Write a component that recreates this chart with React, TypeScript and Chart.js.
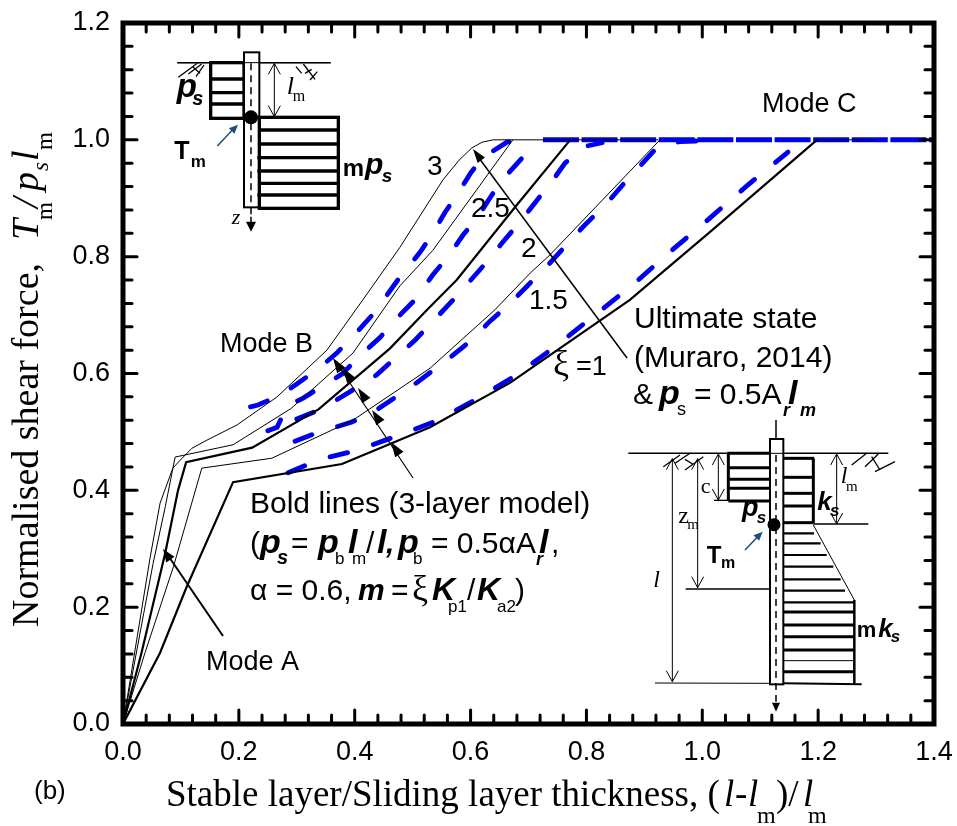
import React, { useEffect, useRef } from "react";
import { Chart, registerables } from "chart.js";

Chart.register(...registerables);

type P = [number, number];

// Solid black curves (three-layer ultimate state), one per xi
const solidXi1: P[] = [[0,0],[0.064,0.122],[0.11,0.235],[0.19,0.414],[0.378,0.445],[0.53,0.508],[0.668,0.584],[0.875,0.726],[1.013,0.842],[1.198,1.0]];
const solidXi15: P[] = [[0,0],[0.038,0.122],[0.087,0.269],[0.136,0.438],[0.257,0.455],[0.397,0.52],[0.53,0.609],[0.642,0.709],[0.703,0.772],[0.737,0.803],[0.927,1.0]];
const solidXi2: P[] = [[0,0],[0.032,0.122],[0.073,0.293],[0.095,0.4],[0.109,0.448],[0.223,0.473],[0.338,0.539],[0.461,0.643],[0.525,0.709],[0.576,0.76],[0.677,0.885],[0.772,1.0]];
const solidXi25: P[] = [[0,0],[0.052,0.275],[0.073,0.372],[0.09,0.457],[0.19,0.478],[0.29,0.54],[0.397,0.635],[0.461,0.726],[0.478,0.75],[0.535,0.811],[0.673,1.0]];
const solidXi3: P[] = [[0,0],[0.047,0.286],[0.064,0.378],[0.086,0.438],[0.102,0.455],[0.119,0.472],[0.145,0.486],[0.197,0.512],[0.266,0.56],[0.352,0.64],[0.414,0.726],[0.478,0.816],[0.552,0.931],[0.58,0.965],[0.602,0.986],[0.62,0.996],[0.639,1.0]];
// Thin black plateau pieces that show through the blue line
const solidFlatA: P[] = [[0.639,1.0],[0.924,1.0]];
const solidFlatB: P[] = [[1.198,1.0],[1.3,1.0]];

// Dashed blue curves (Muraro, 2014), one per xi
const dashXi1: P[] = [[0.285,0.43],[0.34,0.453],[0.406,0.469],[0.478,0.495],[0.542,0.519],[0.608,0.555],[0.677,0.596],[0.742,0.643],[0.811,0.697],[0.879,0.751],[0.944,0.808],[1.013,0.866],[1.079,0.923],[1.148,0.979]];
const dashXi15: P[] = [[0.297,0.484],[0.328,0.496],[0.366,0.508],[0.395,0.517],[0.432,0.534],[0.464,0.555],[0.5,0.579],[0.568,0.63],[0.6,0.656],[0.634,0.69],[0.665,0.717],[0.703,0.755],[0.734,0.786],[0.768,0.823],[0.797,0.854],[0.834,0.89],[0.861,0.921],[0.897,0.96],[0.923,0.988],[0.961,0.997],[0.99,0.998]];
const dashXi2: P[] = [[0.3,0.522],[0.335,0.536],[0.369,0.555],[0.397,0.572],[0.437,0.597],[0.466,0.623],[0.504,0.657],[0.57,0.726],[0.596,0.755],[0.628,0.791],[0.654,0.823],[0.685,0.859],[0.711,0.892],[0.74,0.928],[0.763,0.96],[0.794,0.988],[0.827,0.995]];
const dashXi25: P[] = [[0.25,0.502],[0.266,0.508],[0.283,0.544],[0.311,0.558],[0.347,0.58],[0.378,0.599],[0.414,0.635],[0.444,0.662],[0.478,0.7],[0.504,0.726],[0.535,0.769],[0.561,0.8],[0.587,0.837],[0.611,0.866],[0.637,0.906],[0.659,0.936],[0.69,0.97],[0.723,0.996]];
const dashXi3: P[] = [[0.22,0.543],[0.233,0.546],[0.271,0.563],[0.3,0.582],[0.337,0.608],[0.369,0.635],[0.404,0.671],[0.432,0.702],[0.478,0.765],[0.513,0.808],[0.533,0.837],[0.556,0.876],[0.576,0.905],[0.6,0.943],[0.621,0.97],[0.663,0.996],[0.69,1.0]];
// Mode C plateau where the dashed curves overlap
const dashPlateau: P[] = [[0.725,1.0],[1.4,1.0]];

const blackCurves = [
  { label: "xi = 1 (3-layer)", pts: solidXi1, bold: true },
  { label: "xi = 1.5 (3-layer)", pts: solidXi15, bold: false },
  { label: "xi = 2 (3-layer)", pts: solidXi2, bold: true },
  { label: "xi = 2.5 (3-layer)", pts: solidXi25, bold: false },
  { label: "xi = 3 (3-layer)", pts: solidXi3, bold: false },
  { label: "plateau overlap A", pts: solidFlatA, bold: false },
  { label: "plateau overlap B", pts: solidFlatB, bold: false },
];
const blueCurves = [
  { label: "xi = 1 (ultimate)", pts: dashXi1 },
  { label: "xi = 1.5 (ultimate)", pts: dashXi15 },
  { label: "xi = 2 (ultimate)", pts: dashXi2 },
  { label: "xi = 2.5 (ultimate)", pts: dashXi25 },
  { label: "xi = 3 (ultimate)", pts: dashXi3 },
];

const SANS = '"Liberation Sans"';
const SERIF = '"Liberation Serif"';
const BI = (s: number) => `italic bold ${s}px ${SANS}`;
const B = (s: number) => `bold ${s}px ${SANS}`;
const R = (s: number) => `${s}px ${SANS}`;
const SR = (s: number) => `${s}px ${SERIF}`;
const SI = (s: number) => `italic ${s}px ${SERIF}`;

type Ctx = CanvasRenderingContext2D;

function t(c: Ctx, s: string, x: number, y: number, font: string, color = "#000") {
  c.font = font;
  c.fillStyle = color;
  c.textAlign = "left";
  c.textBaseline = "alphabetic";
  c.fillText(s, x, y);
}

function line(c: Ctx, x1: number, y1: number, x2: number, y2: number, w = 1, color = "#000") {
  c.strokeStyle = color;
  c.lineWidth = w;
  c.beginPath();
  c.moveTo(x1, y1);
  c.lineTo(x2, y2);
  c.stroke();
}

function solidHead(c: Ctx, tipX: number, tipY: number, ang: number, len: number, wid: number, color = "#000") {
  c.fillStyle = color;
  c.beginPath();
  c.moveTo(tipX, tipY);
  c.lineTo(tipX - Math.cos(ang) * len - Math.sin(ang) * wid, tipY - Math.sin(ang) * len + Math.cos(ang) * wid);
  c.lineTo(tipX - Math.cos(ang) * len + Math.sin(ang) * wid, tipY - Math.sin(ang) * len - Math.cos(ang) * wid);
  c.closePath();
  c.fill();
}

function openHead(c: Ctx, tipX: number, tipY: number, dir: 1 | -1) {
  line(c, tipX - 6, tipY - dir * 11, tipX, tipY, 1);
  line(c, tipX + 6, tipY - dir * 11, tipX, tipY, 1);
}

function dimArrow(c: Ctx, x: number, y1: number, y2: number) {
  line(c, x, y1, x, y2, 1);
  openHead(c, x, y1, -1);
  openHead(c, x, y2, 1);
}

function topLeftInset(c: Ctx) {
  const X = (v: number) => 120 + v / 3;
  const Y = (v: number) => 20 + v / 3;
  const L = (a: number, b: number, d: number, e: number, w = 1) => line(c, X(a), Y(b), X(d), Y(e), w);
  L(172, 128, 632, 128, 1.5);
  c.lineJoin = "miter";
  c.lineWidth = 3.3;
  c.strokeStyle = "#000";
  c.strokeRect(X(272), Y(128), (372 - 272) / 3, (295 - 128) / 3);
  [177, 218, 252].forEach((v) => L(272, v, 372, v, 3.3));
  c.lineWidth = 2;
  c.fillStyle = "#fff";
  c.fillRect(X(372), Y(97), 46 / 3, 465 / 3);
  c.strokeRect(X(372), Y(97), 46 / 3, 465 / 3);
  L(172, 128, 632, 128, 1);
  c.setLineDash([7, 5]);
  L(393, 130, 393, 590, 1.5);
  c.setLineDash([]);
  L(393, 590, 393, 625, 1.5);
  solidHead(c, X(393), Y(635), Math.PI / 2, 10, 5);
  c.fillStyle = "#000";
  c.beginPath();
  c.arc(X(393), Y(292), 7, 0, Math.PI * 2);
  c.fill();
  c.lineWidth = 3.3;
  c.strokeRect(X(418), Y(292), (655 - 418) / 3, (565 - 292) / 3);
  [330, 372, 413, 453, 490, 525].forEach((v) => L(v > 400 && v < 530 && v !== 490 ? 412 : 418, v, 655, v, 3.3));
  dimArrow(c, X(463), Y(130), Y(290));
  line(c, X(292), Y(378), X(345), Y(322), 1.5, "#1f4e79");
  solidHead(c, X(354), Y(314), -Math.PI / 4, 9, 4, "#1f4e79");
  [[175, 172, 232, 130], [205, 162, 245, 132], [228, 170, 252, 135], [218, 140, 240, 160]].forEach((h) => L(h[0], h[1], h[2], h[3], 1.3));
  [[528, 140, 545, 160], [550, 132, 585, 178], [570, 180, 592, 155], [555, 160, 575, 148]].forEach((h) => L(h[0], h[1], h[2], h[3], 1.3));
  t(c, "p", X(170), Y(232), BI(33));
  t(c, "s", X(217), Y(256), BI(20));
  t(c, "T", X(163), Y(418), B(25));
  t(c, "m", X(212), Y(442), B(17));
  t(c, "m", X(668), Y(468), B(24));
  t(c, "p", X(735), Y(462), BI(30));
  t(c, "s", X(785), Y(486), BI(19));
  t(c, "l", X(500), Y(222), SI(26));
  t(c, "m", X(518), Y(242), SR(16));
  t(c, "z", X(335), Y(612), SI(22));
}

function bottomRightInset(c: Ctx) {
  const X = (v: number) => 610 + v / 3;
  const Y = (v: number) => 420 + v / 3;
  const L = (a: number, b: number, d: number, e: number, w = 1) => line(c, X(a), Y(b), X(d), Y(e), w);
  L(55, 100, 835, 100, 1.5);
  L(352, 100, 480, 100, 3);
  L(355, 100, 355, 243, 3);
  L(355, 243, 480, 243, 3);
  L(312, 241, 355, 241, 1.3);
  [143, 178, 205].forEach((v) => L(355, v, 480, v, 3));
  L(520, 115, 612, 115, 3);
  L(610, 115, 610, 310, 3);
  [172, 220, 258, 308].forEach((v) => L(517, v, 610, v, 3));
  L(610, 312, 775, 312, 1.3);
  L(610, 315, 733, 540, 1);
  const taper: P[] = [[340, 612], [370, 632], [405, 650], [440, 670], [478, 692], [512, 705], [547, 733]];
  taper.forEach((p) => L(514, p[0], p[1], p[0], 2.2));
  L(733, 540, 733, 792, 2.5);
  [576, 615, 650, 690, 755].forEach((v) => L(516, v, 733, v, 3));
  L(520, 722, 733, 722, 1);
  L(520, 790, 755, 793, 2);
  L(135, 789, 480, 790, 1);
  c.lineWidth = 2;
  c.strokeStyle = "#000";
  c.fillStyle = "#fff";
  c.fillRect(X(480), Y(57), 40 / 3, 736 / 3);
  c.strokeRect(X(480), Y(57), 40 / 3, 736 / 3);
  L(498, 0, 498, 57, 1.5);
  L(480, 100, 520, 100, 1);
  c.setLineDash([7, 5]);
  L(498, 105, 498, 845, 1.5);
  c.setLineDash([]);
  solidHead(c, X(498), Y(875), Math.PI / 2, 9, 4);
  c.fillStyle = "#000";
  c.beginPath();
  c.arc(X(492), Y(314), 6.5, 0, Math.PI * 2);
  c.fill();
  L(227, 507, 480, 507, 1.5);
  dimArrow(c, X(325), Y(102), Y(240));
  dimArrow(c, X(680), Y(102), Y(312));
  dimArrow(c, X(187), Y(116), Y(785));
  dimArrow(c, X(263), Y(116), Y(503));
  line(c, X(405), Y(390), X(450), Y(343), 1.5, "#1f4e79");
  solidHead(c, X(458), Y(335), -Math.PI / 4, 9, 4, "#1f4e79");
  [[160, 140, 210, 105], [195, 130, 240, 100], [225, 150, 280, 110], [225, 118, 248, 132]].forEach((h) => L(h[0], h[1], h[2], h[3], 1.3));
  [[725, 135, 770, 100], [765, 140, 805, 102], [795, 155, 855, 125], [785, 110, 810, 150]].forEach((h) => L(h[0], h[1], h[2], h[3], 1.3));
  t(c, "p", X(396), Y(288), BI(27));
  t(c, "s", X(440), Y(308), BI(17));
  t(c, "T", X(290), Y(428), B(24));
  t(c, "m", X(333), Y(445), B(16));
  t(c, "k", X(622), Y(270), BI(26));
  t(c, "s", X(660), Y(288), BI(17));
  t(c, "m", X(740), Y(650), B(22));
  t(c, "k", X(805), Y(650), BI(26));
  t(c, "s", X(842), Y(665), BI(17));
  t(c, "z", X(205), Y(308), SR(24));
  t(c, "m", X(232), Y(328), SR(15));
  t(c, "l", X(130), Y(500), SI(24));
  t(c, "l", X(692), Y(190), SI(24));
  t(c, "m", X(708), Y(212), SR(15));
  t(c, "c", X(272), Y(218), SR(22));
}

function annotations(c: Ctx) {
  // xi arrow
  line(c, 627, 358, 476, 154, 1.5);
  solidHead(c, 473, 149, Math.atan2(149 - 358, 473 - 627), 14, 4.5);
  // 3-layer model arrow
  line(c, 413, 478, 336, 362, 1.2);
  const ang = Math.atan2(358 - 478, 333 - 413);
  ([[391, 442], [372, 410], [358, 388], [343, 368], [333, 358]] as P[]).forEach((p) => solidHead(c, p[0], p[1], ang, 15, 5));
  // Mode A arrow
  line(c, 223, 636, 167, 554, 2);
  solidHead(c, 163, 549, Math.atan2(549 - 636, 163 - 223), 13, 5);

  t(c, "Mode C", 762, 112, R(27));
  t(c, "Mode B", 220, 352, R(27));
  t(c, "Mode A", 206, 670, R(27));
  t(c, "3", 427, 175, R(28));
  t(c, "2.5", 471, 217, R(28));
  t(c, "2", 521, 257, R(28));
  t(c, "1.5", 529, 309, R(28));
  t(c, "ξ", 553, 375, SR(36));
  t(c, "=1", 576, 375, R(27));
  t(c, "Ultimate state", 634, 328, R(30));
  t(c, "(Muraro, 2014)", 634, 367, R(30));
  t(c, "&", 633, 404, R(30));
  t(c, "p", 659, 404, BI(34));
  t(c, "s", 677, 415, R(18));
  t(c, "= 0.5A", 694, 404, R(30));
  t(c, "l", 788, 404, BI(34));
  t(c, "r", 783, 416, BI(18));
  t(c, "m", 800, 416, BI(18));

  t(c, "Bold lines (3-layer model)", 250, 513, R(30));
  t(c, "(", 250, 553, R(30));
  t(c, "p", 260, 553, BI(34));
  t(c, "s", 277, 564, BI(20));
  t(c, "=", 291, 553, R(30));
  t(c, "p", 318, 553, BI(34));
  t(c, "b", 335, 564, R(17));
  t(c, "l", 348, 553, BI(34));
  t(c, "m", 352, 564, R(17));
  t(c, "/", 366, 553, R(30));
  t(c, "l", 377, 553, BI(34));
  t(c, ",", 386, 553, BI(30));
  t(c, "p", 398, 553, BI(34));
  t(c, "b", 413, 564, R(17));
  t(c, "= 0.5αA", 431, 553, R(30));
  t(c, "l", 539, 553, BI(34));
  t(c, "r", 536, 565, BI(18));
  t(c, ",", 551, 553, R(30));

  t(c, "α = 0.6,", 250, 600, R(30));
  t(c, "m", 358, 600, BI(30));
  t(c, "=", 391, 600, R(30));
  t(c, "ξ", 412, 600, SR(36));
  t(c, "K", 432, 600, BI(32));
  t(c, "p1", 448, 612, R(17));
  t(c, "/", 467, 600, R(30));
  t(c, "K", 477, 600, BI(32));
  t(c, "a2", 497, 612, R(17));
  t(c, ")", 515, 600, R(30));

  t(c, "(b)", 34, 799, R(26));

  // x axis title
  t(c, "Stable layer/Sliding layer thickness, (", 166, 806, SR(37));
  t(c, "l", 724, 806, SI(37));
  t(c, "-", 735, 806, SR(37));
  t(c, "l", 748, 806, SI(37));
  t(c, "m", 757, 823, SR(24));
  t(c, ")/", 776, 806, SR(37));
  t(c, "l", 803, 806, SI(37));
  t(c, "m", 808, 823, SR(24));

  // y axis title
  c.save();
  c.translate(38, 627);
  c.rotate(-Math.PI / 2);
  t(c, "Normalised shear force, ", 0, 0, SR(38));
  t(c, "T", 387, 0, SI(38));
  t(c, "m", 407, 14, SR(23));
  t(c, "/", 419, 0, SI(38));
  t(c, "p", 436, 0, SI(38));
  t(c, "s", 456, 10, SI(23));
  t(c, "l", 466, 0, SI(38));
  t(c, "m", 477, 14, SR(23));
  c.restore();
}

const frameAndDrawing = {
  id: "frameAndDrawing",
  afterDatasetsDraw(chart: any) {
    const c: Ctx = chart.ctx;
    const { left, right, top, bottom } = chart.chartArea;
    const xs = chart.scales.x;
    const ys = chart.scales.y;
    c.save();
    c.lineCap = "round";
    xs.ticks.forEach((tk: any, i: number) => {
      const major = Math.abs(tk.value / 0.2 - Math.round(tk.value / 0.2)) < 1e-6;
      const px = xs.getPixelForTick(i);
      const len = major ? 14 : 9;
      line(c, px, bottom, px, bottom - len, 3);
      line(c, px, top, px, top + len, 3);
    });
    ys.ticks.forEach((tk: any, i: number) => {
      const major = Math.abs(tk.value / 0.2 - Math.round(tk.value / 0.2)) < 1e-6;
      const py = ys.getPixelForTick(i);
      const len = major ? 14 : 9;
      line(c, left, py, left + len, py, 3);
      line(c, right, py, right - len, py, 3);
    });
    c.lineCap = "butt";
    c.lineWidth = 5;
    c.strokeStyle = "#000";
    c.lineJoin = "miter";
    c.strokeRect(left, top, right - left, bottom - top);
    annotations(c);
    topLeftInset(c);
    bottomRightInset(c);
    c.restore();
  },
};

const majorLabel = (v: any) => {
  const n = Number(v);
  return Math.abs(n / 0.2 - Math.round(n / 0.2)) < 1e-6 ? n.toFixed(1) : "";
};

export default function App() {
  const ref = useRef<HTMLCanvasElement>(null);
  useEffect(() => {
    const chart = new Chart(ref.current as HTMLCanvasElement, {
      type: "line",
      data: {
        datasets: [
          ...blackCurves.map((d) => ({
            label: d.label,
            data: d.pts.map((p) => ({ x: p[0], y: p[1] })),
            borderColor: "#000",
            borderWidth: d.bold ? 2.2 : 1,
            pointRadius: 0,
            tension: 0,
          })),
          ...blueCurves.map((d) => ({
            label: d.label,
            data: d.pts.map((p) => ({ x: p[0], y: p[1] })),
            borderColor: "#0000f0",
            borderWidth: 4.8,
            borderDash: [18, 27],
            borderCapStyle: "round" as const,
            pointRadius: 0,
            tension: 0,
          })),
          {
            label: "Mode C plateau",
            data: dashPlateau.map((p) => ({ x: p[0], y: p[1] })),
            borderColor: "#0000f0",
            borderWidth: 5,
            borderDash: [36, 2.6],
            pointRadius: 0,
            tension: 0,
          },
        ],
      },
      options: {
        responsive: false,
        animation: false,
        layout: { autoPadding: false, padding: { top: 23, right: 23, left: 0, bottom: 0 } },
        plugins: { legend: { display: false }, title: { display: false }, tooltip: { enabled: false } },
        scales: {
          x: {
            type: "linear",
            min: 0,
            max: 1.4,
            afterFit: (s: any) => { s.height = 102; s.paddingRight = 0; s.paddingLeft = 0; s.paddingTop = 0; s.paddingBottom = 0; },
            grid: { drawOnChartArea: false, drawTicks: false },
            border: { display: false },
            ticks: {
              stepSize: 0.04,
              autoSkip: false,
              maxRotation: 0,
              padding: 12,
              color: "#000",
              font: { family: "Liberation Sans", size: 27 },
              callback: majorLabel,
            },
          },
          y: {
            type: "linear",
            min: 0,
            max: 1.2,
            afterFit: (s: any) => { s.width = 123; s.paddingRight = 0; s.paddingLeft = 0; s.paddingTop = 0; s.paddingBottom = 0; },
            grid: { drawOnChartArea: false, drawTicks: false },
            border: { display: false },
            ticks: {
              stepSize: 0.04,
              autoSkip: false,
              padding: 13,
              color: "#000",
              font: { family: "Liberation Sans", size: 27 },
              callback: majorLabel,
            },
          },
        },
      },
      plugins: [frameAndDrawing],
    } as any);
    return () => chart.destroy();
  }, []);
  return (
    <div style={{ position: "fixed", left: 0, top: 0, width: 957, height: 826, background: "#fff" }}>
      <canvas ref={ref} width={957} height={826} style={{ display: "block" }} />
    </div>
  );
}
